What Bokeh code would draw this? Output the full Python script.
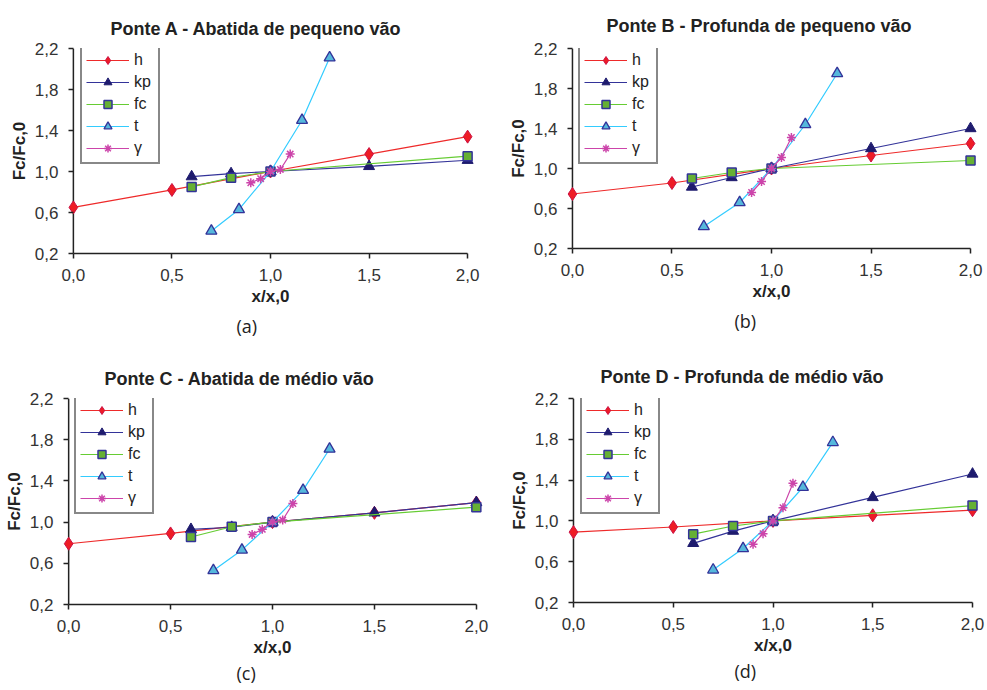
from bokeh.plotting import figure
from bokeh.layouts import column, row
from bokeh.models import (Range1d, FixedTicker, CustomJSTickFormatter, Legend,
                          LegendItem, Title, Span)
from bokeh.embed import file_html
from bokeh.resources import INLINE

# ---------------- data ----------------
series_names = ["h", "kp", "fc", "t", "γ"]
x_ticks = [0.0, 0.5, 1.0, 1.5, 2.0]
y_ticks = [0.2, 0.6, 1.0, 1.4, 1.8, 2.2]

h_x = [0.0, 0.5, 1.0, 1.5, 2.0]
kp_x = [0.6, 0.8, 1.0, 1.5, 2.0]
fc_x = [0.6, 0.8, 1.0, 2.0]
gamma_x = [0.9, 0.95, 1.0, 1.05, 1.1]

titles = ["Ponte A - Abatida de pequeno vão",
          "Ponte B - Profunda de pequeno vão",
          "Ponte C - Abatida de médio vão",
          "Ponte D - Profunda de médio vão"]
captions = ["(a)", "(b)", "(c)", "(d)"]

# Ponte A
a_h = [0.65, 0.82, 1.0, 1.17, 1.34]
a_kp = [0.95, 0.98, 1.0, 1.05, 1.11]
a_fc = [0.85, 0.94, 1.0, 1.15]
a_t_x = [0.70, 0.84, 1.0, 1.16, 1.30]
a_t = [0.42, 0.63, 1.0, 1.50, 2.11]
a_g = [0.89, 0.93, 1.0, 1.02, 1.17]

# Ponte B
b_h = [0.745, 0.855, 1.0, 1.13, 1.25]
b_kp = [0.815, 0.91, 1.0, 1.20, 1.40]
b_fc = [0.90, 0.96, 1.0, 1.08]
b_t_x = [0.66, 0.84, 1.0, 1.17, 1.33]
b_t = [0.42, 0.66, 1.0, 1.44, 1.95]
b_g = [0.76, 0.87, 1.0, 1.11, 1.31]

# Ponte C
c_h = [0.79, 0.89, 1.0, 1.09, 1.19]
c_kp = [0.93, 0.95, 1.0, 1.09, 1.19]
c_fc = [0.855, 0.955, 1.0, 1.145]
c_t_x = [0.71, 0.85, 1.0, 1.15, 1.28]
c_t = [0.53, 0.73, 1.0, 1.31, 1.71]
c_g = [0.88, 0.93, 1.0, 1.02, 1.18]

# Ponte D
d_h = [0.89, 0.94, 1.0, 1.055, 1.105]
d_kp = [0.78, 0.90, 1.0, 1.23, 1.46]
d_fc = [0.87, 0.95, 1.0, 1.15]
d_t_x = [0.70, 0.85, 1.0, 1.15, 1.30]
d_t = [0.52, 0.73, 1.0, 1.33, 1.77]
d_g = [0.77, 0.875, 1.0, 1.13, 1.37]

panel_data = [
    (a_h, a_kp, a_fc, a_t_x, a_t, a_g),
    (b_h, b_kp, b_fc, b_t_x, b_t, b_g),
    (c_h, c_kp, c_fc, c_t_x, c_t, c_g),
    (d_h, d_kp, d_fc, d_t_x, d_t, d_g),
]

# ---------------- layout (pixels) ----------------
# left, frame_w, right, top, frame_h, bottom, legend_dx,
# title_offset, title_standoff, caption_offset, caption_standoff
geo = [
    (65, 410, 18, 43, 205, 97, 15, 45, 19, 171, 10),
    (71, 414, 9, 48, 200, 97, 14, 42, 25, 170, 10),
    (60, 424, 9, 52, 206, 87, 14, 44, 20, 176, 3),
    (72, 415, 7, 53, 204, 88, 15, 35, 24, 169, 3),
]
PAD = 0.04

FONT = "Liberation Sans"
navy = "#333399"
axis_col = "#222222"
LW = 1.2

def make_panel(i):
    h, kp, fc, t_x, t, g = panel_data[i]
    L, FW, R, T, FH, B, ldx, toff, tstand, coff, cstand = geo[i]
    p = figure(frame_width=FW, frame_height=FH,
               min_border_left=L, min_border_right=R,
               min_border_top=T, min_border_bottom=B,
               x_range=Range1d(-PAD, 2 + PAD), y_range=Range1d(0.2, 2.2),
               output_backend="svg", toolbar_location=None,
               background_fill_color="white", border_fill_color="white")
    p.outline_line_color = None
    p.grid.visible = False
    px_in = round(FW * PAD / (2 + 2 * PAD))

    # axes
    p.xaxis.ticker = FixedTicker(ticks=x_ticks)
    p.yaxis.ticker = FixedTicker(ticks=y_ticks)
    fmt = "return tick.toFixed(1).replace('.', ',');"
    p.xaxis.formatter = CustomJSTickFormatter(code=fmt)
    p.yaxis.formatter = CustomJSTickFormatter(code=fmt)
    p.xaxis.bounds = (0, 2)
    for ax in (p.xaxis, p.yaxis):
        ax.axis_line_color = axis_col
        ax.axis_line_width = 1.5
        ax.major_tick_line_color = axis_col
        ax.major_tick_line_width = 1.5
        ax.minor_tick_line_color = None
        ax.major_label_text_font = FONT
        ax.major_label_text_font_size = "17px"
        ax.major_label_text_color = "#333333"
        ax.axis_label_text_font = FONT
        ax.axis_label_text_font_style = "bold"
        ax.axis_label_text_font_size = "17px"
        ax.axis_label_text_color = axis_col
    p.xaxis.major_tick_out = 5
    p.xaxis.major_tick_in = 0
    # y axis sits at x = 0, a few pixels inside the frame
    p.yaxis.axis_line_color = None
    p.yaxis.major_tick_in = px_in
    p.yaxis.major_tick_out = -(px_in - 5)
    p.add_layout(Span(location=0, dimension="height", line_color=axis_col,
                      line_width=1.5, level="underlay"))
    p.xaxis.axis_label = "x/x,0"
    p.yaxis.axis_label = "Fc/Fc,0"
    p.xaxis.major_label_standoff = 10
    p.yaxis.major_label_standoff = 7
    p.xaxis.axis_label_standoff = 3
    p.yaxis.axis_label_standoff = 3

    # series
    r_h_l = p.line(h_x, h, line_color="#ee2a2a", line_width=LW)
    r_h_m = p.scatter(h_x, h, marker="diamond", size=13,
                      fill_color="#ee1c25", line_color="#cc1144", line_width=1)
    r_kp_l = p.line(kp_x, kp, line_color=navy, line_width=LW)
    r_kp_m = p.scatter(kp_x, kp, marker="triangle", size=11,
                       fill_color="#1e1b6e", line_color="#1e1b6e", line_width=1)
    r_fc_l = p.line(fc_x, fc, line_color="#66cc33", line_width=LW)
    r_fc_m = p.scatter(fc_x, fc, marker="square", size=9,
                       fill_color="#66b034", line_color=navy, line_width=1.5)
    r_t_l = p.line(t_x, t, line_color="#33ccff", line_width=LW)
    r_t_m = p.scatter(t_x, t, marker="triangle", size=11,
                      fill_color="#55b8dc", line_color=navy, line_width=1.3)
    r_g_l = p.line(gamma_x, g, line_color="#cc44aa", line_width=LW)
    r_g_m = p.scatter(gamma_x, g, marker="asterisk", size=9,
                      line_color="#cc44aa", line_width=1.5)

    items = [LegendItem(label=series_names[0], renderers=[r_h_l, r_h_m]),
             LegendItem(label=series_names[1], renderers=[r_kp_l, r_kp_m]),
             LegendItem(label=series_names[2], renderers=[r_fc_l, r_fc_m]),
             LegendItem(label=series_names[3], renderers=[r_t_l, r_t_m]),
             LegendItem(label=series_names[4], renderers=[r_g_l, r_g_m])]
    leg_h = 116
    legend = Legend(items=items, location=(ldx, FH - leg_h),
                    glyph_width=43, glyph_height=20, label_height=20,
                    spacing=2, padding=4, margin=0, label_standoff=5,
                    label_text_font=FONT, label_text_font_size="16px",
                    label_text_color="#222222",
                    border_line_color="#111111", border_line_width=2,
                    background_fill_color="white", background_fill_alpha=1)
    p.add_layout(legend, "center")

    p.add_layout(Title(text=titles[i], align="left", offset=toff,
                       standoff=tstand, vertical_align="bottom",
                       text_font=FONT, text_font_style="bold",
                       text_font_size="18px", text_color="#222222"), "above")
    p.add_layout(Title(text=captions[i], align="left", offset=coff,
                       standoff=cstand, vertical_align="top",
                       text_font="Open Sans", text_font_style="normal",
                       text_font_size="18px", text_color="#222222"), "below")
    return p

panels = [make_panel(i) for i in range(4)]
layout = column(row(panels[0], panels[1]), row(panels[2], panels[3]))

open("out.html", "w").write(file_html(layout, INLINE))
